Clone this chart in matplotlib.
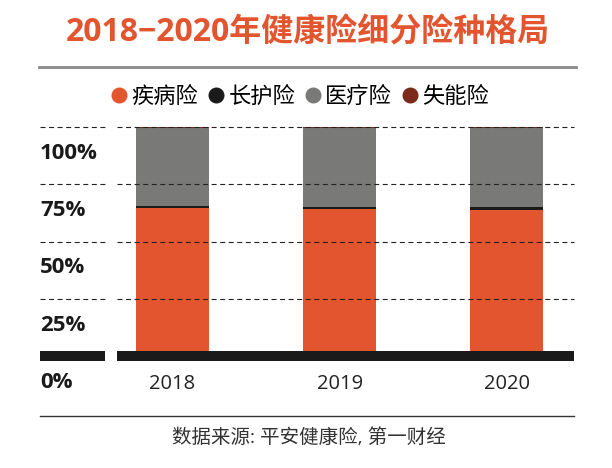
import numpy as np
import matplotlib
matplotlib.use("Agg")
import matplotlib.pyplot as plt
from matplotlib.lines import Line2D

plt.rcParams['font.family'] = ['Open Sans', 'Noto Sans CJK SC', 'DejaVu Sans']

# 数据 (%)
years = ['2018', '2019', '2020']
series_names = ['疾病险', '长护险', '医疗险', '失能险']
disease = [64.8, 64.2, 63.8]
ltc = [0.6, 1.0, 1.4]
medical = [34.3, 34.5, 34.5]
disability = [0.3, 0.3, 0.3]
colors = ['#E2552E', '#1A1A1A', '#797977', '#7B2A1C']
y_ticks = [0, 25, 50, 75, 100]

fig = plt.figure(figsize=(6.12, 4.68), dpi=100)
W, H = 612, 468
ax = fig.add_axes([40 / W, (H - 356) / H, 534 / W, 229 / H])

x = np.arange(len(years))
width = 0.4365
bottom = np.zeros(len(years))
for vals, c in zip([disease, ltc, medical, disability], colors):
    ax.bar(x, vals, width, bottom=bottom, color=c, zorder=2)
    bottom += np.array(vals)

ax.set_xlim(-0.792, 2.4006)
ax.set_ylim(0, 100)

# 虚线网格 (分两段)
tr = ax.get_yaxis_transform()
for y in y_ticks[1:]:
    for x0, x1 in [(0, 0.1217), (0.1442, 1)]:
        ax.hlines(y, x0, x1, transform=tr, colors='#222222', lw=0.8,
                  linestyles=(0, (4.5, 3.2)), zorder=3, clip_on=False)
# 底部粗线
for x0, x1 in [(0, 0.1217), (0.1442, 1)]:
    ax.hlines(0, x0, x1, transform=tr, colors='#1A1A1A', lw=7.2,
              zorder=4, clip_on=False)

# y 轴标签 (位于网格线下方)
for y in y_ticks:
    ax.text(0, y - 11.5, f'{y}%', transform=tr, ha='left', va='center',
            fontsize=16, fontweight='bold', color='#1A1A1A')

ax.set_xticks(x)
ax.set_xticklabels(years, fontsize=14.5, color='#222222')
ax.tick_params(axis='x', length=0, pad=13)
ax.set_yticks([])
for s in ax.spines.values():
    s.set_visible(False)

# 标题
fig.text(308 / W, 1 - 33 / H, '2018−2020年健康险细分险种格局', ha='center', va='center',
         fontsize=23, fontweight='bold', color='#E2552E')
fig.add_artist(Line2D([39 / W, 576 / W], [1 - 67 / H] * 2, transform=fig.transFigure,
                      color='#888888', lw=2))

# 图例
handles = [Line2D([], [], marker='o', ls='', color=c, markersize=10.5) for c in colors]
fig.legend(handles, series_names, loc='center', bbox_to_anchor=(300 / W, 1 - 97 / H),
           ncol=4, frameon=False, fontsize=16, handlelength=0.7, handletextpad=0.2,
           columnspacing=0.45, borderaxespad=0, borderpad=0)

# 底部
fig.add_artist(Line2D([40 / W, 574 / W], [1 - 416 / H] * 2, transform=fig.transFigure,
                      color='#333333', lw=1))
fig.text(309 / W, 1 - 438 / H, '数据来源: 平安健康险, 第一财经', ha='center', va='center',
         fontsize=14, color='#333333')

fig.savefig('out.png', dpi=100)
